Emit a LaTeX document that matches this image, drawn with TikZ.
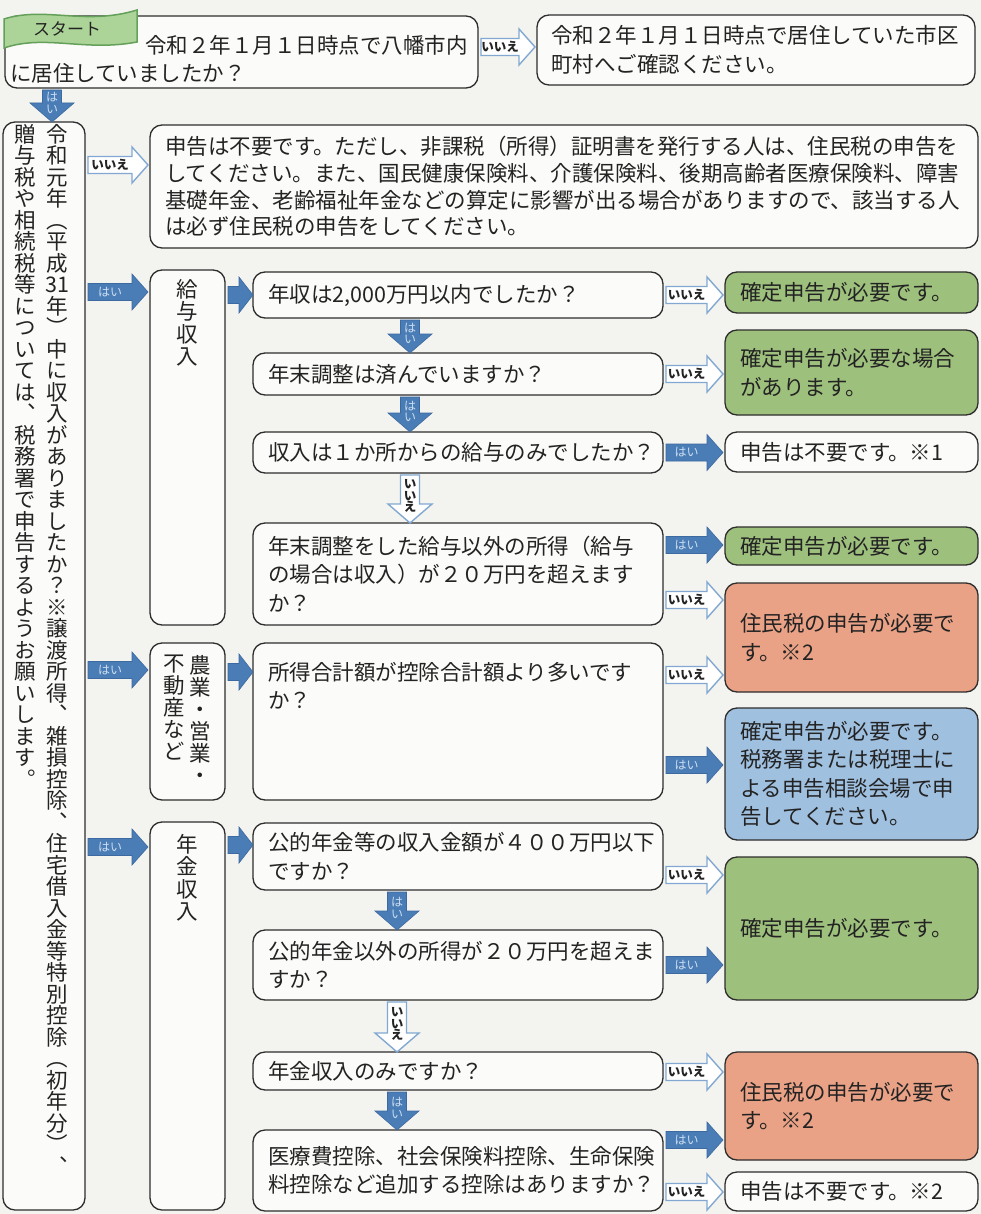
\documentclass[tikz,border=0pt]{standalone}
\usepackage{fontspec}
\setmainfont{Noto Sans CJK JP}
\newfontfamily\jpv[RawFeature=+vert]{Noto Sans CJK JP}
\usetikzlibrary{calc}
\definecolor{bg}{RGB}{243,243,239}
\definecolor{boxfill}{RGB}{251,251,249}
\definecolor{edge}{RGB}{45,45,45}
\definecolor{ink}{RGB}{35,35,35}
\definecolor{grn}{RGB}{158,192,125}
\definecolor{sal}{RGB}{234,162,135}
\definecolor{blu}{RGB}{160,192,224}
\definecolor{arrb}{RGB}{74,125,182}
\definecolor{arrbd}{RGB}{60,105,160}
\definecolor{arrl}{RGB}{130,168,210}
\definecolor{ylbl}{RGB}{205,222,240}
\definecolor{bang}{RGB}{172,212,152}
\definecolor{bangd}{RGB}{100,160,90}

\newcommand\vst[2][21.5pt]{\vbox{\baselineskip=#1\lineskiplimit=-\maxdimen\lineskip=0pt\relax\vstin#2\relax}}
\def\vstin#1{\ifx\relax#1\else\hbox to 23pt{\hss#1\hss}\expandafter\vstin\fi}

\newcommand\harr[5]{%
  \path[#3] let \p1=(#1), \p2=(#2) in
    (\x1,\y1+8.5pt) -- (\x2-16pt,\y1+8.5pt) -- (\x2-16pt,\y1+18pt) -- (\x2,\y1)
    -- (\x2-16pt,\y1-18pt) -- (\x2-16pt,\y1-8.5pt) -- (\x1,\y1-8.5pt) -- cycle;
  \path let \p1=(#1), \p2=(#2) in node[#3lbl] (#5) at ({(\x1+\x2-16pt)/2},\y1) {#4};}
\newcommand\harrN[3]{%
  \path[#3] let \p1=(#1), \p2=(#2) in
    (\x1,\y1+8.5pt) -- (\x2-14pt,\y1+8.5pt) -- (\x2-14pt,\y1+18pt) -- (\x2,\y1)
    -- (\x2-14pt,\y1-18pt) -- (\x2-14pt,\y1-8.5pt) -- (\x1,\y1-8.5pt) -- cycle;}
\newcommand\varr[5]{%
  \path[#3] let \p1=(#1), \p2=(#2) in
    (\x1-9.5pt,\y1) -- (\x1-9.5pt,\y2+19pt) -- (\x1-22pt,\y2+19pt) -- (\x1,\y2)
    -- (\x1+22pt,\y2+19pt) -- (\x1+9.5pt,\y2+19pt) -- (\x1+9.5pt,\y1) -- cycle;
  \path let \p1=(#1), \p2=(#2) in node[#3lbl, align=center] (#5) at ({\x1},{(\y1+\y2)/2+3pt}) {#4};}

\begin{document}
\begin{tikzpicture}[x=1pt,y=-1pt,
  every node/.style={inner sep=0pt, outer sep=0pt},
  wh/.style 2 args={minimum width=#1pt, minimum height=#2pt},
  tw/.style={text width=#1pt},
  box/.style={draw=edge, line width=1.3pt, rounded corners=12pt, fill=boxfill, anchor=north west, align=left, text=ink, font=\fontsize{21.5}{28.5}\selectfont},
  greenbox/.style={box, fill=grn},
  salmonbox/.style={box, fill=sal},
  bluebox/.style={box, fill=blu},
  txt/.style={align=left, text=ink, font=\fontsize{21.5}{28.5}\selectfont},
  vtxt/.style={text=ink, font=\jpv\fontsize{21.5}{21.5}\selectfont, anchor=north},
  yesarr/.style={fill=arrb, draw=arrbd, line width=0.6pt},
  noarr/.style={fill=white, draw=arrl, line width=1.4pt},
  yesarrlbl/.style={text=ylbl, font=\fontsize{12}{11.5}\selectfont},
  noarrlbl/.style={text=ink, font=\bfseries\fontsize{12.5}{11.5}\selectfont},
]
\fill[bg] (0,0) rectangle (981,1214);
\useasboundingbox (0,0) rectangle (981,1214);

% top row
\node[box, wh={473}{72}] (start) at (5,16) {};
\node[txt, anchor=north west] (startT) at ($(start.north west)+(5,19)$) {\hspace*{135pt}令和２年１月１日時点で八幡市内\\に居住していましたか？};
\path[draw=bangd, line width=1.5pt, fill=bang] (4,19) .. controls (45,6) and (85,26) .. (137,10) -- (137,42) .. controls (85,52) and (45,34) .. (4,48) -- cycle;
\node[text=ink, font=\fontsize{17}{17}\selectfont] (startlbl) at (67,29) {スタート};
\node[box, wh={438}{70}, tw={410}] (chk) at (537,15) {令和２年１月１日時点で居住していた市区\\町村へご確認ください。};

% left tall box
\node[box, wh={82}{1088}] (L) at (3,122) {};
\node[vtxt] (Lr) at (57,124) {\vst{令和元年（平成{31}年）中に収入がありましたか？※譲渡所得、雑損控除、住宅借入金等特別控除（初年分）、}};
\node[vtxt] (Ll) at (25,124) {\vst{贈与税や相続税等については、税務署で申告するようお願いします。}};

% no-income box
\node[box, wh={828}{123}, tw={798}, font=\fontsize{21.5}{26.7}\selectfont] (N) at (150,125) {申告は不要です。ただし、非課税（所得）証明書を発行する人は、住民税の申告を\\してください。また、国民健康保険料、介護保険料、後期高齢者医療保険料、障害\\基礎年金、老齢福祉年金などの算定に影響が出る場合がありますので、該当する人\\は必ず住民税の申告をしてください。};

% category boxes
\node[box, wh={75}{355}] (C1) at (150,270) {};
\node[vtxt] (C1t) at (187.5,279) {\vst[22.5pt]{給与収入}};
\node[box, wh={75}{157}] (C2) at (150,643) {};
\node[vtxt] (C2r) at (200,655) {\vst[22pt]{農業・営業・}};
\node[vtxt] (C2l) at (174,655) {\vst[22pt]{不動産など}};
\node[box, wh={75}{388}] (C3) at (150,822) {};
\node[vtxt] (C3t) at (187.5,834) {\vst[22.5pt]{年金収入}};

% questions
\node[box, wh={410}{46}, tw={380}] (Q1) at (253,272) {年収は2,000万円以内でしたか？};
\node[box, wh={410}{42}, tw={380}] (Q2) at (253,353) {年末調整は済んでいますか？};
\node[box, wh={410}{41}, tw={380}] (Q3) at (253,432) {収入は１か所からの給与のみでしたか？};
\node[box, wh={410}{102}, tw={380}] (Q4) at (253,523) {年末調整をした給与以外の所得（給与\\の場合は収入）が２０万円を超えます\\か？};
\node[box, wh={410}{157}] (Q5) at (253,643) {};
\node[txt, anchor=north west] (Q5t) at ($(Q5.north west)+(15,19)$) {所得合計額が控除合計額より多いです\\か？};
\node[box, wh={410}{67}, tw={380}] (Q6) at (253,823) {公的年金等の収入金額が４００万円以下\\ですか？};
\node[box, wh={410}{70}, tw={380}] (Q7) at (253,930) {公的年金以外の所得が２０万円を超えま\\すか？};
\node[box, wh={410}{38}, tw={380}] (Q8) at (253,1052) {年金収入のみですか？};
\node[box, wh={410}{81}, tw={380}] (Q9) at (253,1130) {医療費控除、社会保険料控除、生命保険\\料控除など追加する控除はありますか？};

% results
\node[greenbox, wh={253}{41}, tw={223}] (G1) at (725,272) {確定申告が必要です。};
\node[greenbox, wh={253}{85}, tw={223}] (G2) at (725,330) {確定申告が必要な場合\\があります。};
\node[box, wh={253}{40}, tw={223}] (W1) at (725,432) {申告は不要です。※1};
\node[greenbox, wh={253}{38}, tw={223}] (G3) at (725,527) {確定申告が必要です。};
\node[salmonbox, wh={253}{109}, tw={223}] (S1) at (725,583) {住民税の申告が必要で\\す。※2};
\node[bluebox, wh={253}{132}, tw={223}] (B1) at (725,708) {確定申告が必要です。\\税務署または税理士に\\よる申告相談会場で申\\告してください。};
\node[greenbox, wh={253}{143}, tw={223}] (G4) at (725,857) {確定申告が必要です。};
\node[salmonbox, wh={253}{108}, tw={223}] (S2) at (725,1052) {住民税の申告が必要で\\す。※2};
\node[box, wh={253}{39}, tw={223}] (W2) at (725,1172) {申告は不要です。※2};

% arrows
\harr{$(start.east)+(3,-5)$}{$(chk.west)+(-2,0)$}{noarr}{いいえ}{a0}
\varr{$(start.south west)+(47,2)$}{L.north}{yesarr}{は\\い}{a1}
\harr{$(L.north east)+(3,43)$}{$(N.west)+(-2,0)$}{noarr}{いいえ}{a2}
\harr{$(L.north east)+(3,170)$}{$(C1.west)+(-2,0)$}{yesarr}{はい}{a3}
\harr{$(L.north east)+(3,548)$}{$(C2.west)+(-2,0)$}{yesarr}{はい}{a4}
\harr{$(L.north east)+(3,725)$}{$(C3.west)+(-2,0)$}{yesarr}{はい}{a5}
\harrN{$(C1.north east)+(3,25)$}{Q1.west}{yesarr}
\harrN{$(C2.north east)+(3,29)$}{Q5.west}{yesarr}
\harrN{$(C3.north east)+(3,23)$}{Q6.west}{yesarr}

\harr{$(Q1.east)+(3,0)$}{$(G1.west)+(-2,0)$}{noarr}{いいえ}{b1}
\harr{$(Q2.east)+(3,0)$}{$(G2.west)+(-2,0)$}{noarr}{いいえ}{b2}
\harr{$(Q3.east)+(3,0)$}{$(W1.west)+(-2,0)$}{yesarr}{はい}{b3}
\harr{$(Q4.north east)+(3,22)$}{$(G3.west)+(-2,0)$}{yesarr}{はい}{b4}
\harr{$(Q4.north east)+(3,77)$}{$(S1.west)+(-2,0)$}{noarr}{いいえ}{b5}
\harr{$(Q5.north east)+(3,32)$}{$(S1.west)+(-2,0)$}{noarr}{いいえ}{b6}
\harr{$(Q5.north east)+(3,122)$}{$(B1.west)+(-2,0)$}{yesarr}{はい}{b7}
\harr{$(Q6.north east)+(3,52)$}{$(G4.west)+(-2,0)$}{noarr}{いいえ}{b8}
\harr{$(Q7.east)+(3,0)$}{$(G4.west)+(-2,0)$}{yesarr}{はい}{b9}
\harr{$(Q8.east)+(3,1)$}{$(S2.west)+(-2,0)$}{noarr}{いいえ}{b10}
\harr{$(Q9.north east)+(3,10)$}{$(S2.west)+(-2,0)$}{yesarr}{はい}{b11}
\harr{$(Q9.north east)+(3,62)$}{$(W2.west)+(-2,0)$}{noarr}{いいえ}{b12}

\varr{$(Q1.south west)+(157,2)$}{Q2.north}{yesarr}{は\\い}{v1}
\varr{$(Q2.south west)+(157,2)$}{Q3.north}{yesarr}{は\\い}{v2}
\varr{$(Q3.south west)+(157,2)$}{Q4.north}{noarr}{い\\い\\え}{v3}
\varr{$(Q6.south west)+(144,2)$}{Q7.north}{yesarr}{は\\い}{v4}
\varr{$(Q7.south west)+(144,2)$}{Q8.north}{noarr}{い\\い\\え}{v5}
\varr{$(Q8.south west)+(144,2)$}{Q9.north}{yesarr}{は\\い}{v6}
\end{tikzpicture}
\end{document}
